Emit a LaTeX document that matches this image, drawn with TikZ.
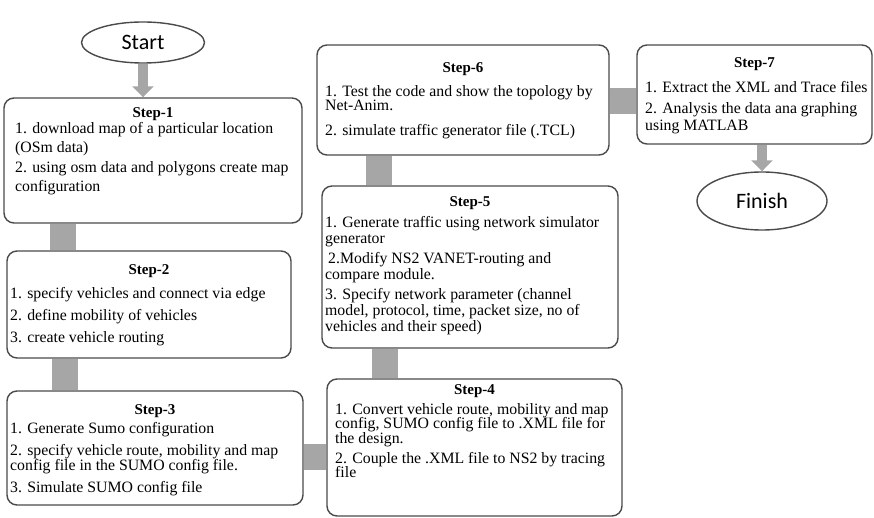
\documentclass[tikz,border=0pt]{standalone}
\usepackage{fontspec}
\setmainfont{Liberation Serif}
\newfontfamily\calib{Carlito}
\usetikzlibrary{shapes.geometric,arrows.meta}
\pgfdeclarelayer{bg}
\pgfsetlayers{bg,main}
\definecolor{barg}{HTML}{A6A6A6}
\definecolor{edgec}{HTML}{4A4A4A}
\newcommand{\bodyfont}[1]{\fontsize{15.8}{#1}\selectfont\lineskiplimit=-100pt\relax}
\begin{document}
\begin{tikzpicture}[x=1pt,y=-1pt,
  stepbox/.style={draw=edgec, line width=1.4pt, rounded corners=10pt, fill=white, inner sep=0pt},
  term/.style={ellipse, draw=edgec, line width=1.4pt, fill=white, inner sep=0pt, font=\calib\fontsize{22}{22}\selectfont},
  ttl/.style={font=\bfseries\fontsize{15}{15}\selectfont, inner sep=0pt},
  body/.style={anchor=north west, align=left, inner sep=0pt},
  bar/.style={draw=barg, line width=26pt},
  flow/.style={draw=barg, line width=10pt, -{Triangle[width=21pt,length=11pt]}},
]
\useasboundingbox (0,0) rectangle (874,518);

% terminals
\node[term, minimum width=123pt, minimum height=41pt] (start) at (143,42.5) {Start};
\node[term, minimum width=130pt, minimum height=58pt] (fin) at (762,201) {Finish};

% boxes
\node[stepbox, minimum width=298pt, minimum height=125pt] (s1) at (153,160.5) {};
\node[stepbox, minimum width=284pt, minimum height=107pt] (s2) at (149,304.5) {};
\node[stepbox, minimum width=296pt, minimum height=114pt] (s3) at (155,448) {};
\node[stepbox, minimum width=295pt, minimum height=137pt] (s4) at (474.5,447.5) {};
\node[stepbox, minimum width=296pt, minimum height=162pt] (s5) at (470,267) {};
\node[stepbox, minimum width=292pt, minimum height=110pt] (s6) at (463,100) {};
\node[stepbox, minimum width=235pt, minimum height=99pt] (s7) at (754.5,94.5) {};

% titles
\node[ttl] (s1h) at (153,114) {Step-1};
\node[ttl] (s2h) at (149,271) {Step-2};
\node[ttl] (s3h) at (155,411) {Step-3};
\node[ttl] (s4h) at (474.5,391) {Step-4};
\node[ttl] (s5h) at (470,203) {Step-5};
\node[ttl] (s6h) at (463,69) {Step-6};
\node[ttl] (s7h) at (754.5,64) {Step-7};

% bodies
\node[body, font=\bodyfont{19}] (s1t) at (15,119.7)
 {\strut 1. download map of a particular location\\(OSm data)\\[1pt]2. using osm data and polygons create map\\configuration};
\node[body, font=\bodyfont{22}] (s2t) at (10,282.6)
 {\strut 1. specify vehicles and connect via edge\\2. define mobility of vehicles\\3. create vehicle routing};
\node[body, font=\bodyfont{15}] (s3t) at (10,422.5)
 {\strut 1. Generate Sumo configuration\\[7pt]2. specify vehicle route, mobility and map\\config file in the SUMO config file.\\[7pt]3. Simulate SUMO config file};
\node[body, font=\bodyfont{14.5}] (s4t) at (335,402.9)
 {\strut 1. Convert vehicle route, mobility and map\\config, SUMO config file to .XML file for\\the design.\\[5.5pt]2. Couple the .XML file to NS2 by tracing\\file};
\node[body, font=\bodyfont{16}] (s5t) at (325,215.8)
 {\strut 1. Generate traffic using network simulator\\generator\\[4pt]\hspace{3pt}2.Modify NS2 VANET-routing and\\compare module.\\[4pt]3. Specify network parameter (channel\\model, protocol, time, packet size, no of\\vehicles and their speed)};
\node[body, font=\bodyfont{14.5}] (s6t) at (325,84.9)
 {\strut 1. Test the code and show the topology by\\Net-Anim.\\[10pt]2. simulate traffic generator file (.TCL)};
\node[body, font=\bodyfont{17}] (s7t) at (645,80.1)
 {\strut 1. Extract the XML and Trace files\\[4pt]2. Analysis the data ana graphing\\using MATLAB};

% bars
\begin{pgfonlayer}{bg}
\draw[bar] ([xshift=60pt]s1.south west) -- ([xshift=60pt]s1.south west |- s2.north);
\draw[bar] ([xshift=59pt]s2.south west) -- ([xshift=59pt]s2.south west |- s3.north);
\draw[bar] ([yshift=-67pt]s3.north east) -- ([yshift=-67pt]s3.north east -| s4.west);
\draw[bar] ([xshift=59pt]s4.north west) -- ([xshift=59pt]s4.north west |- s5.south);
\draw[bar] ([xshift=58pt]s5.north west) -- ([xshift=58pt]s5.north west |- s6.south);
\draw[bar] ([yshift=-57pt]s6.north east) -- ([yshift=-57pt]s6.north east -| s7.west);
\end{pgfonlayer}

% arrows
\draw[flow] (start.south) -- (start.south |- s1.north);
\draw[flow] (fin.north |- s7.south) -- (fin.north);
\end{tikzpicture}
\end{document}
